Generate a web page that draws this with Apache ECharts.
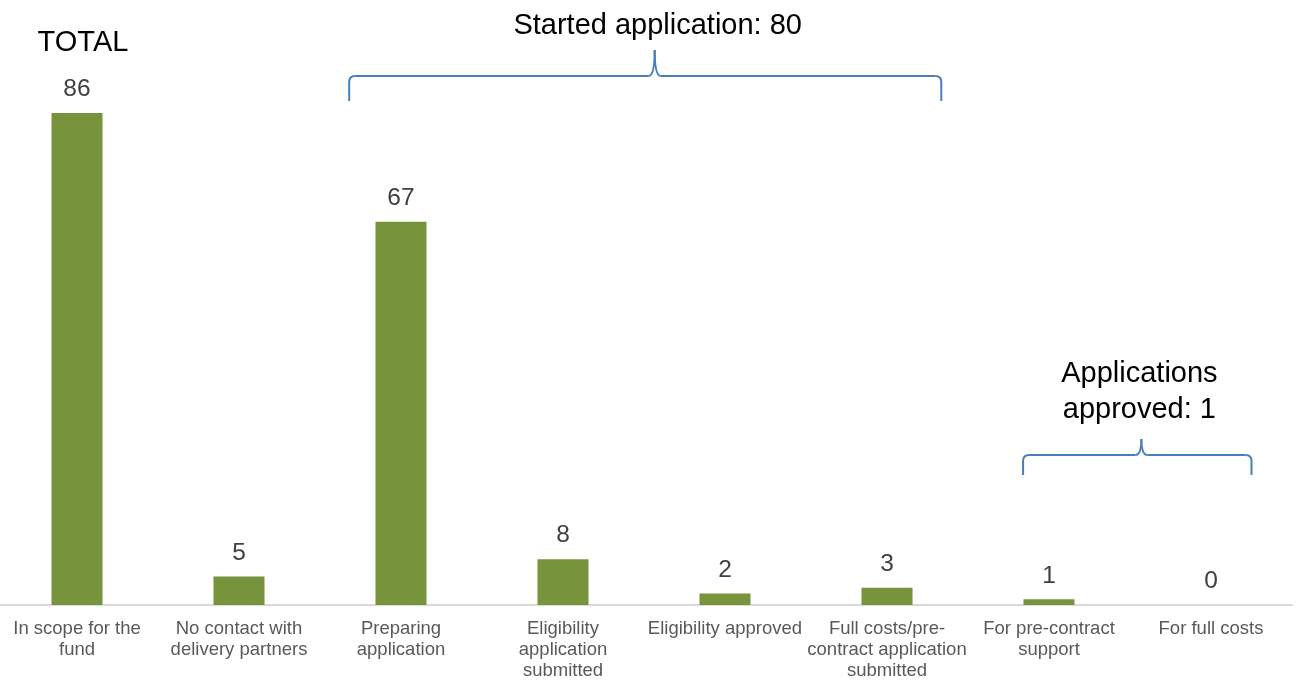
<!DOCTYPE html>
<html>
<head>
<meta charset="utf-8">
<script src="https://cdn.jsdelivr.net/npm/echarts@6/dist/echarts.min.js"></script>
<style>
html,body{margin:0;padding:0;background:#fff;}
#chart{width:1298px;height:680px;}
</style>
</head>
<body>
<div id="chart"></div>
<script>
const categories = [
  "In scope for the\nfund",
  "No contact with\ndelivery partners",
  "Preparing\napplication",
  "Eligibility\napplication\nsubmitted",
  "Eligibility approved",
  "Full costs/pre-\ncontract application\nsubmitted",
  "For pre-contract\nsupport",
  "For full costs"
];
const values = [86, 5, 67, 8, 2, 3, 1, 0];
const totalLabel = "TOTAL";
const startedLabel = "Started application: 80";
const approvedLabel = "Applications\napproved: 1";

const FONT = "'Liberation Sans', Arial, sans-serif";
const chart = echarts.init(document.getElementById('chart'));
chart.setOption({
  animation: false,
  grid: {left: -4, right: 6, top: 33, bottom: 75, containLabel: false, outerBoundsMode: 'none'},
  xAxis: {
    type: 'category',
    data: categories,
    axisLine: {lineStyle: {color: '#d9d9d9', width: 2}},
    axisTick: {show: false},
    axisLabel: {color: '#595959', fontSize: 18.5, fontFamily: FONT, lineHeight: 21, margin: 13, interval: 0}
  },
  yAxis: {
    type: 'value', min: 0, max: 100, show: false, splitLine: {show: false}
  },
  series: [{
    type: 'bar',
    data: values,
    barWidth: 51,
    itemStyle: {color: '#77933C'},
    label: {show: true, position: 'top', distance: 11, color: '#404040', fontSize: 24.5, fontFamily: FONT}
  }]
});

function brace(x1, x2, xm, yb, yh, yt) {
  const r = 6;
  const st = {stroke: '#4a7ebb', lineWidth: 2, fill: null};
  const seg = (pts) => ({type: 'polyline', shape: {points: pts}, style: st, silent: true});
  const bz = (a, b, c) => ({type: 'bezierCurve', shape: {x1: a[0], y1: a[1], cpx1: b[0], cpy1: b[1], x2: c[0], y2: c[1]}, style: st, silent: true});
  return [
    seg([[x1, yb], [x1, yh + r]]),
    bz([x1, yh + r], [x1, yh], [x1 + r, yh]),
    seg([[x1 + r, yh], [xm - r, yh]]),
    bz([xm - r, yh], [xm, yh], [xm, yt]),
    bz([xm, yt], [xm, yh], [xm + r, yh]),
    seg([[xm + r, yh], [x2 - r, yh]]),
    bz([x2 - r, yh], [x2, yh], [x2, yh + r]),
    seg([[x2, yh + r], [x2, yb]])
  ];
}
function px(i) { return chart.convertToPixel({xAxisIndex: 0}, categories[i]); }
const band = px(1) - px(0);

const b1x1 = px(2) - 0.32 * band, b1x2 = px(5) + 0.335 * band;
const b1m = b1x1 + 0.516 * (b1x2 - b1x1);
const b2x1 = px(6) - 0.16 * band, b2x2 = px(7) + 0.25 * band;
const b2m = b2x1 + 0.518 * (b2x2 - b2x1);

chart.setOption({
  graphic: [].concat(
    brace(b1x1, b1x2, b1m, 101, 76, 50),
    brace(b2x1, b2x2, b2m, 475, 455, 439),
    [
      {type: 'text', x: px(0) + 6, y: 43,
       style: {text: totalLabel, fill: '#000', fontSize: 29, fontFamily: FONT, textAlign: 'center', textVerticalAlign: 'middle'}},
      {type: 'text', x: b1m + 3, y: 26,
       style: {text: startedLabel, fill: '#000', fontSize: 29, fontFamily: FONT, textAlign: 'center', textVerticalAlign: 'middle'}},
      {type: 'text', x: b2m - 2, y: 392,
       style: {text: approvedLabel, fill: '#000', fontSize: 29, fontFamily: FONT, lineHeight: 36, textAlign: 'center', textVerticalAlign: 'middle'}}
    ]
  )
});
</script>
</body>
</html>
